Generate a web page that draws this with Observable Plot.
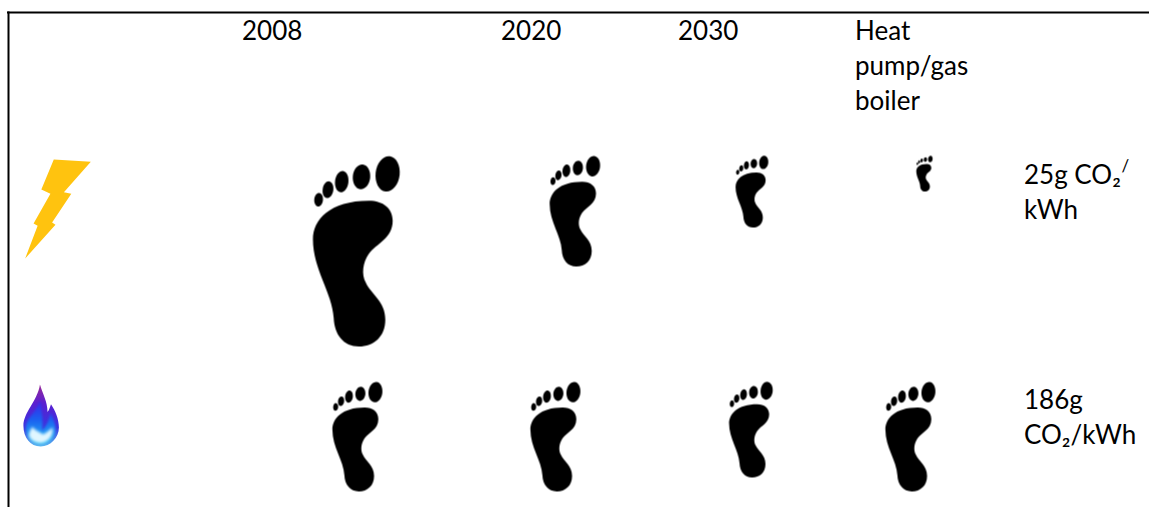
<!DOCTYPE html>
<html>
<head>
<meta charset="utf-8">
<script src="https://cdn.jsdelivr.net/npm/d3@7"></script>
<script src="https://cdn.jsdelivr.net/npm/@observablehq/plot@0.6"></script>
<style>
html,body{margin:0;padding:0;background:#fff}
svg{display:block}
</style>
</head>
<body>
<div id="chart"></div>
<script>
// Chart content
const columnLabels = ["2008", "2020", "2030", "Heat\npump/gas\nboiler"];
const electricityFootprint = [191, 111, 72, 36];
const gasFootprint = [110, 110, 96, 110];
const electricityLabel = "25g CO₂\nkWh";
const gasLabel = "186g\nCO₂/kWh";

// Layout in the chart's 1149×507 space
const headerX = [241.5, 500.5, 677.5, 854.5];
const electricityX = [356, 574.5, 751.5, 924];
const gasX = [357, 555, 750.5, 910];
const electricityTop = 155, gasTop = 381, labelX = 1023.5;

// Glyph outlines, in units of half the glyph's height
function ellipse(c, cx, cy, rx, ry, rot, s) {
  const k = 0.5523, cos = Math.cos(rot), sin = Math.sin(rot);
  const P = (x, y) => [(cx + x * cos - y * sin) * s, (cy + x * sin + y * cos) * s];
  const seg = [[rx, k*ry, k*rx, ry, 0, ry], [-k*rx, ry, -rx, k*ry, -rx, 0], [-rx, -k*ry, -k*rx, -ry, 0, -ry], [k*rx, -ry, rx, -k*ry, rx, 0]];
  c.moveTo(...P(rx, 0));
  for (const a of seg) c.bezierCurveTo(...P(a[0], a[1]), ...P(a[2], a[3]), ...P(a[4], a[5]));
  c.closePath();
}
function zoomShape(cx, cy, h) { return (x, y) => [(x - cx) / h, (y - cy) / h]; }
const F = zoomShape(198, 315, 285);
const footprint = {
  draw(c, size) {
    const s = Math.sqrt(size / Math.PI);
    const p = (x, y) => { const q = F(x, y); return [q[0] * s, q[1] * s]; };
    c.moveTo(...p(235, 165));
    c.bezierCurveTo(...p(278, 165), ...p(306, 188), ...p(306, 225));
    c.bezierCurveTo(...p(306, 278), ...p(258, 292), ...p(234, 325));
    c.bezierCurveTo(...p(217, 350), ...p(212, 385), ...p(226, 410));
    c.bezierCurveTo(...p(242, 445), ...p(284, 465), ...p(284, 520));
    c.bezierCurveTo(...p(284, 570), ...p(250, 600), ...p(205, 600));
    c.bezierCurveTo(...p(160, 600), ...p(132, 565), ...p(130, 515));
    c.bezierCurveTo(...p(126, 440), ...p(68, 370), ...p(68, 280));
    c.bezierCurveTo(...p(68, 222), ...p(118, 165), ...p(235, 165));
    c.closePath();
    for (const [x, y, rx, ry, rot] of [[291,85,36,53,0.12],[213,94,26,37,0.1],[154,108,20,32,0.12],[113,132,16,25,0.15],[85,162,13,20,0.1]]) {
      const q = F(x, y);
      ellipse(c, q[0], q[1], rx / 285, ry / 285, rot, s);
    }
  }
};
const L = zoomShape(142.5, 175, 147);
const bolt = {
  draw(c, size) {
    const s = Math.sqrt(size / Math.PI);
    [[130,28],[240,35],[160,125],[182,130],[125,215],[135,222],[45,322],[82,225],[70,218],[120,130],[93,117]].forEach((pt, i) => {
      const q = L(pt[0], pt[1]);
      i ? c.lineTo(q[0]*s, q[1]*s) : c.moveTo(q[0]*s, q[1]*s);
    });
    c.closePath();
  }
};
const G = zoomShape(91, 115, 90);
function curve(points) {
  return { draw(c, size) {
    const s = Math.sqrt(size / Math.PI);
    const p = (x, y) => { const q = G(x, y); return [q[0]*s, q[1]*s]; };
    c.moveTo(...p(...points[0]));
    for (let i = 1; i + 2 < points.length; i += 3) c.bezierCurveTo(...p(...points[i]), ...p(...points[i+1]), ...p(...points[i+2]));
    c.closePath();
  }};
}
const flameOuter = curve([[88,25],[95,50],[110,75],[110,105],[115,98],[118,88],[120,82],[132,100],[143,125],[143,150],[143,180],[118,205],[90,205],[60,205],[40,180],[40,145],[40,105],[80,75],[88,25]]);
const flameMid = curve([[88,70],[92,95],[98,125],[94,160],[108,145],[116,125],[118,108],[130,130],[136,150],[132,168],[125,190],[105,198],[90,198],[65,198],[47,180],[47,150],[50,118],[80,105],[88,70]]);
const flameCore = curve([[66,148],[72,158],[90,165],[97,170],[108,165],[116,158],[124,150],[128,168],[118,192],[90,195],[72,195],[55,182],[56,170],[58,160],[62,155],[66,148]]);

const dots = (xs, top, values) => values.map((v, i) => ({x: xs[i], y: top + v / 2, v}));
const rowElectric = dots(electricityX, electricityTop, electricityFootprint);
const rowGas = dots(gasX, gasTop, gasFootprint);

const defs = () => {
  const svg = d3.create("svg:defs");
  const grad = (id, stops) => {
    const g = svg.append("linearGradient").attr("id", id).attr("x1", 0).attr("y1", 0).attr("x2", 0).attr("y2", 1);
    stops.forEach(([o, col]) => g.append("stop").attr("offset", o).attr("stop-color", col));
  };
  grad("flameGrad", [["0%", "#9a2a98"], ["30%", "#5a1fd0"], ["70%", "#3a35e0"], ["100%", "#5ab8f0"]]);
  grad("flameMidGrad", [["0%", "#3a22e8"], ["45%", "#1a60f0"], ["100%", "#28c4f4"]]);
  return svg.node();
};

const textOpts = {fontSize: 26, textAnchor: "start", lineHeight: 1.346, fill: "#000"};

const plot = Plot.plot({
  width: 1149, height: 507,
  margin: 0,
  x: {domain: [0, 1149], range: [0, 1149], axis: null},
  y: {domain: [0, 507], range: [0, 507], axis: null},
  r: {type: "linear", domain: [0, 200], range: [0, 100]},
  style: {fontFamily: "Lato, sans-serif", background: "#fff"},
  marks: [
    defs,
    Plot.ruleX([8], {y1: 11.5, y2: 507, stroke: "#000", strokeWidth: 2}),
    Plot.ruleY([12], {x1: 7, x2: 1149, stroke: "#000", strokeWidth: 2}),
    Plot.text(columnLabels, {x: (d, i) => headerX[i], y: 15, text: d => d, lineAnchor: "top", ...textOpts}),
    Plot.text([electricityLabel], {x: labelX, y: 159, text: d => d, lineAnchor: "top", ...textOpts}),
    Plot.text(["/"], {x: 1121, y: 166, text: d => d, fontSize: 17, textAnchor: "start", fill: "#000"}),
    Plot.text([gasLabel], {x: labelX, y: 384, text: d => d, lineAnchor: "top", ...textOpts}),
    Plot.dot(rowElectric, {x: "x", y: "y", r: "v", symbol: footprint, fill: "#000", stroke: "none", imageFilter: "blur(0.4px)"}),
    Plot.dot(rowGas, {x: "x", y: "y", r: "v", symbol: footprint, fill: "#000", stroke: "none", imageFilter: "blur(0.4px)"}),
    Plot.dot([{x: 57.5, y: 208.5, v: 99}], {x: "x", y: "y", r: "v", symbol: bolt, fill: "#FFC30F", stroke: "none", imageFilter: "blur(0.4px)"}),
    Plot.dot([{x: 40.5, y: 415, v: 62}], {x: "x", y: "y", r: "v", symbol: flameOuter, fill: "url(#flameGrad)", stroke: "none", imageFilter: "blur(0.6px)"}),
    Plot.dot([{x: 40.5, y: 415, v: 62}], {x: "x", y: "y", r: "v", symbol: flameMid, fill: "url(#flameMidGrad)", stroke: "none", imageFilter: "blur(1px)"}),
    Plot.dot([{x: 40.5, y: 415, v: 62}], {x: "x", y: "y", r: "v", symbol: flameCore, fill: "#e0f6ff", stroke: "none", imageFilter: "blur(1.5px)"})
  ]
});
document.getElementById("chart").append(plot);
</script>
</body>
</html>
